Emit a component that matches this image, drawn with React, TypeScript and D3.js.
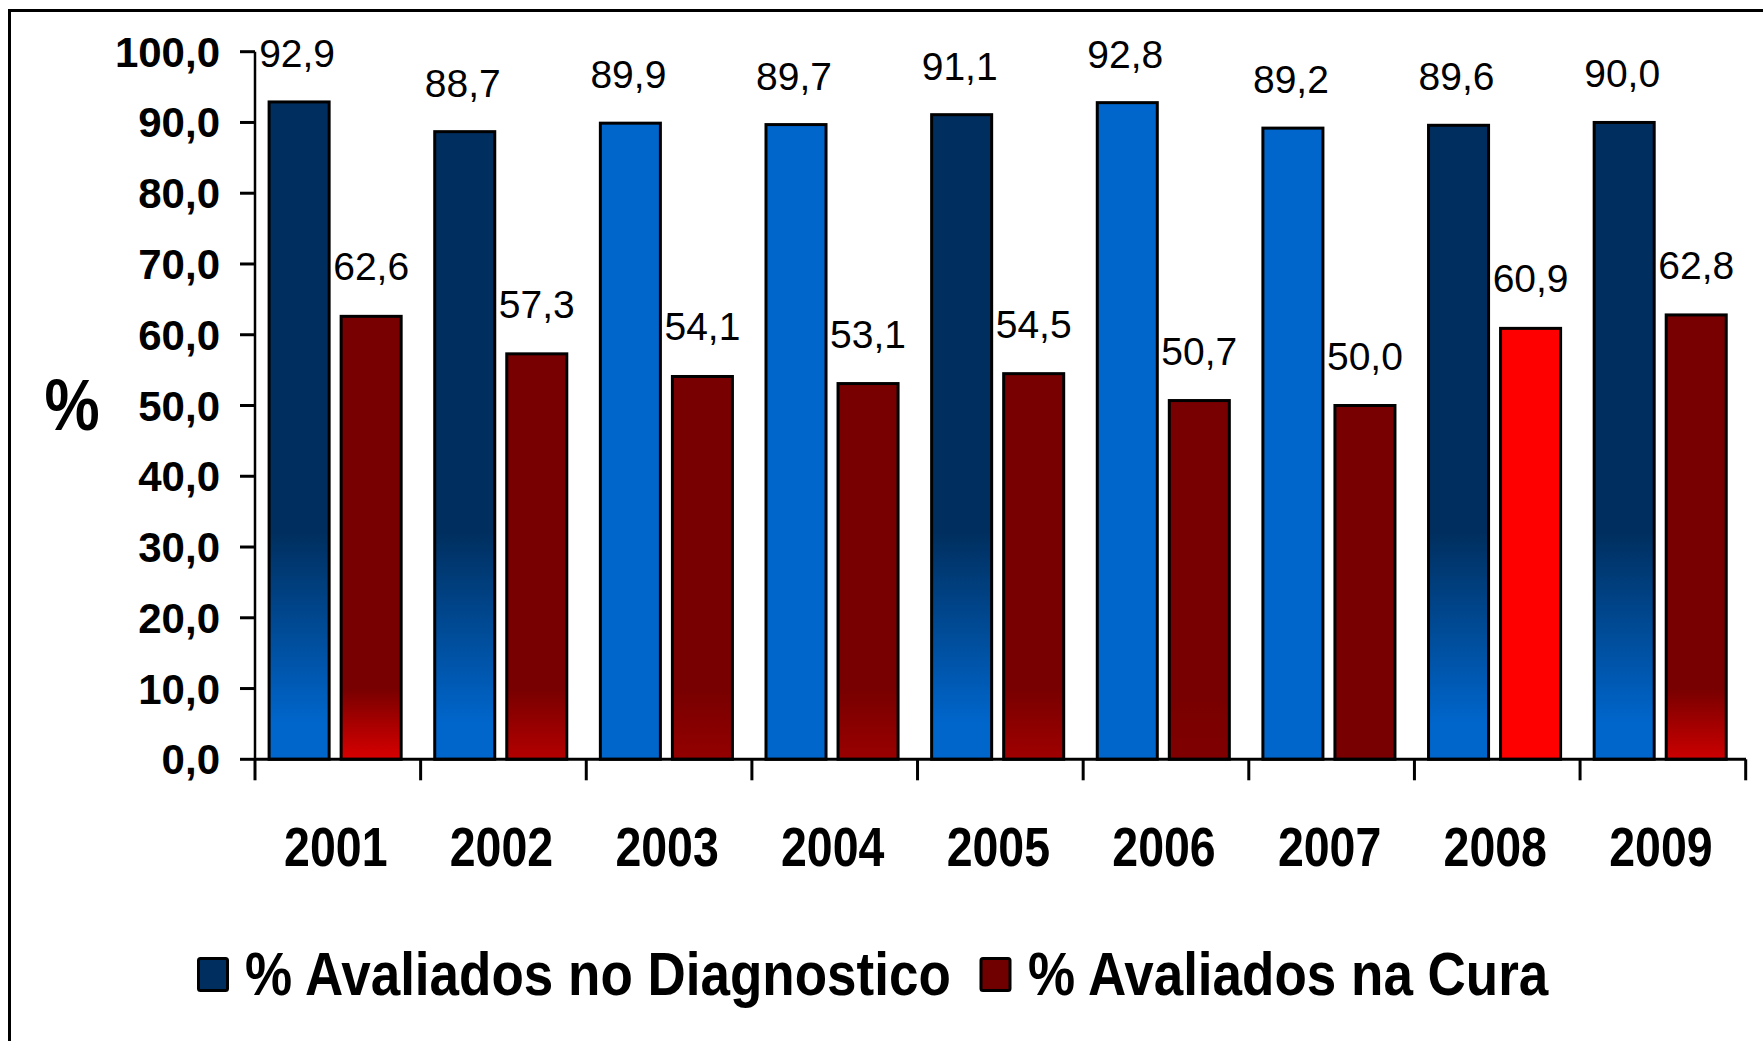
import React from 'react';
import * as d3 from 'd3';

const years = ['2001', '2002', '2003', '2004', '2005', '2006', '2007', '2008', '2009'];
const diagnostico = [92.9, 88.7, 89.9, 89.7, 91.1, 92.8, 89.2, 89.6, 90.0];
const cura = [62.6, 57.3, 54.1, 53.1, 54.5, 50.7, 50.0, 60.9, 62.8];
const yTicks = [0, 10, 20, 30, 40, 50, 60, 70, 80, 90, 100];
const seriesNames = ['% Avaliados no Diagnostico', '% Avaliados na Cura'];

// per-point fills, the source chart formats every bar a bit differently
const diagFaded = [true, true, false, false, true, false, false, true, true];
const curaBottom = ['#d80000', '#b40000', '#940000', '#9a0000', '#a00000', '#800000', '#780000', '#ff0000', '#cc0000'];

const NAVY = '#002f5f';
const BLUE = '#0066cc';
const DARKRED = '#780000';
const FONT = "'Liberation Sans', Arial, sans-serif";

const W = 1763;
const H = 1041;

const fmt = (v: number) => d3.format('.1f')(v).replace('.', ',');

export default function App() {
  const x0 = d3.scaleBand<string>().domain(years).range([255, 1745.7]).padding(0);
  const x1 = d3.scaleBand<string>()
    .domain(['diag', 'cura'])
    .range([0, x0.bandwidth()])
    .paddingInner(0.1667)
    .paddingOuter(0.233)
    .align(0.42);
  const y = d3.scaleLinear().domain([0, 100]).range([759.3, 51.7]);

  const bw = x1.bandwidth();
  const base = y(0);

  return (
    <svg width={W} height={H} style={{ position: 'absolute', left: 0, top: 0 }} fontFamily={FONT}>
      <defs>
        {years.map((yr, i) => (
          <linearGradient key={'gb' + yr} id={'gb' + i} gradientUnits="userSpaceOnUse" x1={0} x2={0} y1={y(32)} y2={y(5)}>
            <stop offset="0" stopColor={NAVY} />
            <stop offset="1" stopColor={BLUE} />
          </linearGradient>
        ))}
        {years.map((yr, i) => (
          <linearGradient key={'gr' + yr} id={'gr' + i} gradientUnits="userSpaceOnUse" x1={0} x2={0} y1={y(10)} y2={y(0)}>
            <stop offset="0" stopColor={DARKRED} />
            <stop offset="1" stopColor={curaBottom[i]} />
          </linearGradient>
        ))}
      </defs>
      <rect x={0} y={0} width={W} height={H} fill="#fff" />
      <rect x={9.5} y={10.5} width={1800} height={1100} fill="none" stroke="#000" strokeWidth={3} />

      {/* bars */}
      {years.map((yr, i) => {
        const gx = x0(yr)!;
        const bx = gx + x1('diag')!;
        const rx = gx + x1('cura')!;
        const by = y(diagnostico[i]);
        const ry = y(cura[i]);
        const redFill = curaBottom[i] === '#ff0000' ? '#ff0000' : `url(#gr${i})`;
        return (
          <g key={yr}>
            <rect x={bx} y={by} width={bw} height={base - by}
              fill={diagFaded[i] ? `url(#gb${i})` : BLUE} stroke="#000" strokeWidth={3} />
            <rect x={rx} y={ry} width={bw} height={base - ry}
              fill={redFill} stroke="#000" strokeWidth={3} />
            <text x={bx + bw / 2 - 2} y={by - 35} textAnchor="middle" fontSize={39}>{fmt(diagnostico[i])}</text>
            <text x={rx + bw / 2} y={ry - 36} textAnchor="middle" fontSize={39}>{fmt(cura[i])}</text>
          </g>
        );
      })}

      {/* y axis */}
      <line x1={255} x2={255} y1={y(100)} y2={base} stroke="#000" strokeWidth={2.5} />
      {yTicks.map(t => (
        <g key={t}>
          <line x1={240} x2={255} y1={y(t)} y2={y(t)} stroke="#000" strokeWidth={3} />
          <text x={220} y={y(t) + 15} textAnchor="end" fontSize={42} fontWeight="bold">{fmt(t)}</text>
        </g>
      ))}
      <text transform={`translate(72,430) scale(1,1.16)`} textAnchor="middle" fontSize={62} fontWeight="bold">%</text>

      {/* x axis */}
      <line x1={255} x2={1746} y1={base} y2={base} stroke="#000" strokeWidth={3} />
      {[...years.map(yr => x0(yr)!), x0.range()[1]].map((bx, i) => (
        <line key={i} x1={bx} x2={bx} y1={base} y2={base + 21} stroke="#000" strokeWidth={3} />
      ))}
      {years.map(yr => (
        <text key={yr} transform={`translate(${x0(yr)! + x0.bandwidth() / 2 - 2},866) scale(1,1.18)`}
          textAnchor="middle" fontSize={46.5} fontWeight="bold">{yr}</text>
      ))}

      {/* legend */}
      <rect x={198.5} y={958.5} width={29} height={32} rx={2} fill={NAVY} stroke="#000" strokeWidth={3} />
      <text transform="translate(245,995) scale(1,1.14)" fontSize={53} fontWeight="bold">{seriesNames[0]}</text>
      <rect x={981} y={958.5} width={29} height={32} rx={2} fill="#700000" stroke="#000" strokeWidth={3} />
      <text transform="translate(1028,995) scale(1,1.14)" fontSize={53} fontWeight="bold">{seriesNames[1]}</text>
    </svg>
  );
}
